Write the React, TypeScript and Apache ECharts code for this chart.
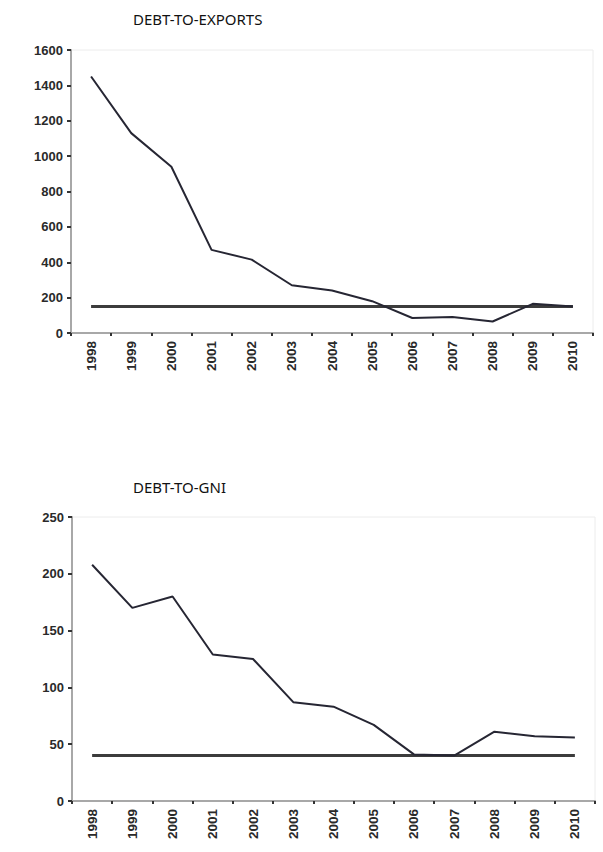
import React, { useEffect, useRef } from "react";
import * as echarts from "echarts";

const years = ["1998", "1999", "2000", "2001", "2002", "2003", "2004", "2005", "2006", "2007", "2008", "2009", "2010"];
const debtToExports = [1450, 1130, 940, 470, 415, 270, 240, 180, 85, 90, 65, 165, 150];
const exportsThreshold = [150, 150, 150, 150, 150, 150, 150, 150, 150, 150, 150, 150, 150];
const debtToGni = [208, 170, 180, 129, 125, 87, 83, 67, 41, 40, 61, 57, 56];
const gniThreshold = [40, 40, 40, 40, 40, 40, 40, 40, 40, 40, 40, 40, 40];
const titles = ["DEBT-TO-EXPORTS", "DEBT-TO-GNI"];

const axisFont = "Arial";

function xAxis(gridIndex: number) {
  return {
    type: "category",
    gridIndex,
    data: years,
    boundaryGap: true,
    axisLine: { show: true, lineStyle: { color: "#a8a8a8", width: 2 } },
    axisTick: { show: true, interval: 0, length: 3, lineStyle: { color: "#333", width: 2 } },
    axisLabel: { interval: 0, rotate: 90, margin: 8, fontSize: 13.5, fontWeight: "bold", color: "#2a2a2a", fontFamily: axisFont },
    splitLine: { show: false },
  };
}

function yAxis(gridIndex: number, max: number, interval: number) {
  return {
    type: "value",
    gridIndex,
    min: 0,
    max,
    interval,
    axisLine: { show: true, lineStyle: { color: "#a8a8a8", width: 2 } },
    axisTick: { show: true, length: 4, lineStyle: { color: "#333", width: 2 } },
    axisLabel: { margin: 8, fontSize: 13, fontWeight: "bold", color: "#2a2a2a", fontFamily: axisFont, formatter: (v: number) => String(v) },
    splitLine: { show: false },
  };
}

export default function App() {
  const ref = useRef<HTMLDivElement>(null);
  useEffect(() => {
    if (!ref.current) return;
    const chart = echarts.init(ref.current, null, { renderer: "svg" });
    chart.setOption({
      animation: false,
      backgroundColor: "#fff",
      title: [
        { text: titles[0], left: 128, top: 6, textStyle: { fontSize: 15, fontWeight: "normal", color: "#111", fontFamily: "Noto Sans" } },
        { text: titles[1], left: 128, top: 474, textStyle: { fontSize: 15, fontWeight: "normal", color: "#111", fontFamily: "Noto Sans" } },
      ],
      grid: [
        { left: 71, right: 10, top: 50, bottom: 519, show: true, borderColor: "#ececec", borderWidth: 1, backgroundColor: "transparent" },
        { left: 72, right: 8, top: 517, bottom: 51, show: true, borderColor: "#ececec", borderWidth: 1, backgroundColor: "transparent" },
      ],
      xAxis: [xAxis(0), xAxis(1)],
      yAxis: [yAxis(0, 1600, 200), yAxis(1, 250, 50)],
      series: [
        { type: "line", xAxisIndex: 0, yAxisIndex: 0, data: exportsThreshold, symbol: "none", lineStyle: { color: "#3c3c3c", width: 3 } },
        { type: "line", xAxisIndex: 0, yAxisIndex: 0, data: debtToExports, symbol: "none", lineStyle: { color: "#262633", width: 2 } },
        { type: "line", xAxisIndex: 1, yAxisIndex: 1, data: gniThreshold, symbol: "none", lineStyle: { color: "#3c3c3c", width: 3 } },
        { type: "line", xAxisIndex: 1, yAxisIndex: 1, data: debtToGni, symbol: "none", lineStyle: { color: "#262633", width: 2 } },
      ],
    });
    return () => chart.dispose();
  }, []);
  return <div ref={ref} style={{ position: "fixed", left: 0, top: 0, width: 603, height: 852 }} />;
}
